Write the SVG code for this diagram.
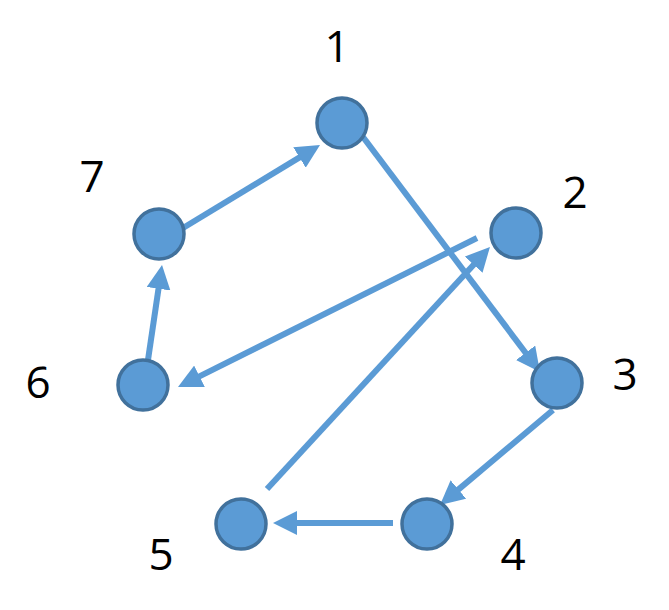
<svg xmlns="http://www.w3.org/2000/svg" width="669" height="610" viewBox="0 0 669 610">
<style>
.node{fill:#5B9BD5;stroke:#41719C;stroke-width:3.5}
.edge{stroke:#5B9BD5;stroke-width:6;fill:none}
.lbl{font-family:"Open Sans","Liberation Sans",sans-serif;font-size:44px;fill:#000;text-anchor:middle}
</style>
<defs>
<marker id="arr" markerUnits="userSpaceOnUse" markerWidth="24" markerHeight="24" refX="4" refY="12" orient="auto">
<path d="M0,0 L24,12 L0,24 z" fill="#5B9BD5"/>
</marker>
</defs>
<rect width="669" height="610" fill="#fff"/>
<g id="connectors">
<line class="edge" x1="183" y1="228" x2="302.9" y2="155.4" marker-end="url(#arr)"/>
<line class="edge" x1="363" y1="137" x2="528" y2="356" marker-end="url(#arr)"/>
<line class="edge" x1="477" y1="238" x2="195.9" y2="378.1" marker-end="url(#arr)"/>
<line class="edge" x1="267" y1="489" x2="476.4" y2="261.7" marker-end="url(#arr)"/>
<line class="edge" x1="553" y1="410" x2="455.3" y2="492.1" marker-end="url(#arr)"/>
<line class="edge" x1="393" y1="523" x2="293" y2="523" marker-end="url(#arr)"/>
<line class="edge" x1="148" y1="360" x2="159.1" y2="284.8" marker-end="url(#arr)"/>
</g>
<g id="node1"><circle class="node" cx="342" cy="123" r="25"/><text class="lbl" x="337" y="62">1</text></g>
<g id="node2"><circle class="node" cx="516" cy="233" r="25"/><text class="lbl" x="575" y="208">2</text></g>
<g id="node3"><circle class="node" cx="557" cy="383" r="25"/><text class="lbl" x="625" y="390">3</text></g>
<g id="node4"><circle class="node" cx="427" cy="524" r="25"/><text class="lbl" x="513" y="570">4</text></g>
<g id="node5"><circle class="node" cx="241" cy="524" r="25"/><text class="lbl" x="161" y="570">5</text></g>
<g id="node6"><circle class="node" cx="143" cy="385" r="25"/><text class="lbl" x="38" y="398">6</text></g>
<g id="node7"><circle class="node" cx="159" cy="234" r="25"/><text class="lbl" x="92" y="192">7</text></g>
</svg>
